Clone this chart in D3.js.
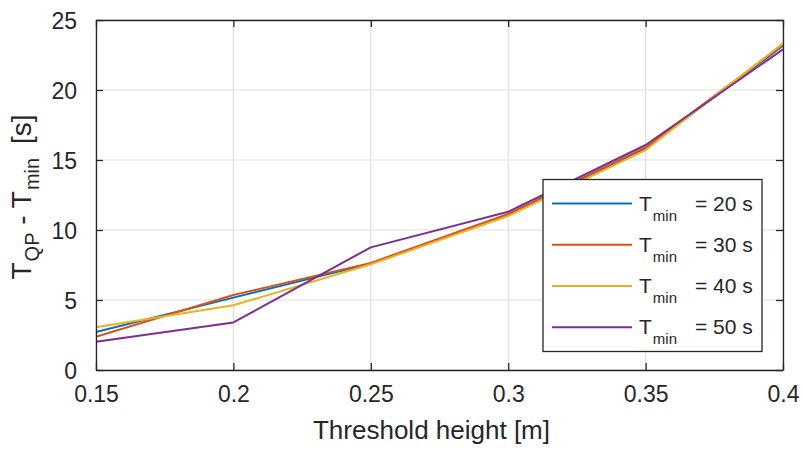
<!DOCTYPE html>
<html>
<head>
<meta charset="utf-8">
<script src="https://cdn.jsdelivr.net/npm/d3@7"></script>
<style>
  body { margin: 0; background: #fff; }
  text { font-family: "Liberation Sans", Arial, Helvetica, sans-serif; fill: #262626; }
</style>
</head>
<body>
<svg id="chart" width="804" height="450"></svg>
<script>
// Threshold heights (m)
const thresholds = [0.15, 0.2, 0.25, 0.3, 0.35, 0.4];
// T_QP - T_min (s) for each minimum period
const tmin20 = [2.71, 5.17, 7.60, 11.10, 15.85, 23.16];
const tmin30 = [2.38, 5.36, 7.65, 11.15, 15.90, 23.25];
const tmin40 = [3.05, 4.62, 7.55, 11.00, 15.71, 23.33];
const tmin50 = [2.02, 3.40, 8.76, 11.30, 16.07, 22.90];
const seriesNames = ["20", "30", "40", "50"];
const seriesColors = ["#0072BD", "#D95319", "#EDB120", "#7E2F8E"];
const xTicks = [0.15, 0.2, 0.25, 0.3, 0.35, 0.4];
const yTicks = [0, 5, 10, 15, 20, 25];

const series = [tmin20, tmin30, tmin40, tmin50];

const svg = d3.select("#chart");
const m = { left: 96, right: 783, top: 20, bottom: 370 };

const x = d3.scaleLinear().domain([0.15, 0.4]).range([m.left, m.right]);
const y = d3.scaleLinear().domain([0, 25]).range([m.bottom, m.top]);

// Grid
const grid = svg.append("g").attr("stroke", "#dedede").attr("stroke-width", 1.2);
grid.selectAll(".gx").data(xTicks).join("line")
  .attr("x1", d => x(d)).attr("x2", d => x(d))
  .attr("y1", m.top).attr("y2", m.bottom);
grid.selectAll(".gy").data(yTicks).join("line")
  .attr("x1", m.left).attr("x2", m.right)
  .attr("y1", d => y(d)).attr("y2", d => y(d));

// Data lines
const line = d3.line().x((d, i) => x(thresholds[i])).y(d => y(d));
svg.append("g").selectAll("path").data(series).join("path")
  .attr("d", d => line(d))
  .attr("fill", "none")
  .attr("stroke", (d, i) => seriesColors[i])
  .attr("stroke-width", 2)
  .attr("stroke-linejoin", "round");

// Axes (ticks inward, box on)
const tickLen = 7;
const axColor = "#262626";
const fmtX = d => String(d);

const bottomAxis = svg.append("g").attr("transform", `translate(0,${m.bottom})`)
  .call(d3.axisBottom(x).tickValues(xTicks).tickFormat(fmtX).tickSizeInner(-tickLen).tickSizeOuter(0).tickPadding(16));
const topAxis = svg.append("g").attr("transform", `translate(0,${m.top})`)
  .call(d3.axisTop(x).tickValues(xTicks).tickFormat("").tickSizeInner(-tickLen).tickSizeOuter(0));
const leftAxis = svg.append("g").attr("transform", `translate(${m.left},0)`)
  .call(d3.axisLeft(y).tickValues(yTicks).tickFormat(d3.format("d")).tickSizeInner(-tickLen).tickSizeOuter(0).tickPadding(19));
const rightAxis = svg.append("g").attr("transform", `translate(${m.right},0)`)
  .call(d3.axisRight(y).tickValues(yTicks).tickFormat("").tickSizeInner(-tickLen).tickSizeOuter(0));

[bottomAxis, topAxis, leftAxis, rightAxis].forEach(g => {
  g.select(".domain").attr("stroke", axColor).attr("stroke-width", 1.3);
  g.selectAll(".tick line").attr("stroke", axColor).attr("stroke-width", 1.3);
  g.selectAll(".tick text").attr("fill", axColor)
    .style("font-family", '"Liberation Sans", Arial, sans-serif').style("font-size", "23px");
});
bottomAxis.selectAll(".tick text").attr("dy", "0.71em");
leftAxis.selectAll(".tick text").attr("dy", "0.36em");

// Axis labels
svg.append("text")
  .attr("x", (m.left + m.right) / 2 - 8).attr("y", 439)
  .attr("text-anchor", "middle")
  .style("font-size", "26px")
  .text("Threshold height [m]");

const yl = svg.append("text")
  .attr("transform", `translate(31,${(m.top + m.bottom) / 2 + 2}) rotate(-90)`)
  .attr("text-anchor", "middle")
  .style("font-size", "28px");
yl.append("tspan").text("T");
yl.append("tspan").attr("dy", 8).attr("dx", 1).style("font-size", "20px").text("QP");
yl.append("tspan").attr("dy", -8).text(" - T");
yl.append("tspan").attr("dy", 8).attr("dx", 1).style("font-size", "20px").text("min");
yl.append("tspan").attr("dy", -8).attr("dx", 6).text(" [s]");

// Legend
const lg = svg.append("g");
lg.append("rect")
  .attr("x", 543).attr("y", 179.5).attr("width", 219).attr("height", 172)
  .attr("fill", "#fff").attr("stroke", axColor).attr("stroke-width", 1.3);
const rowY = [203.5, 244.8, 286, 327.3];
seriesNames.forEach((name, i) => {
  lg.append("line")
    .attr("x1", 552).attr("x2", 632).attr("y1", rowY[i]).attr("y2", rowY[i])
    .attr("stroke", seriesColors[i]).attr("stroke-width", 2);
  const t = lg.append("text").attr("x", 639).attr("y", rowY[i] + 7).style("font-size", "21px");
  t.append("tspan").text("T");
  t.append("tspan").attr("dy", 10).attr("dx", 1).style("font-size", "15px").text("min");
  t.append("tspan").attr("dy", -10).attr("dx", 18).text("= " + name + " s");
});
</script>
</body>
</html>
